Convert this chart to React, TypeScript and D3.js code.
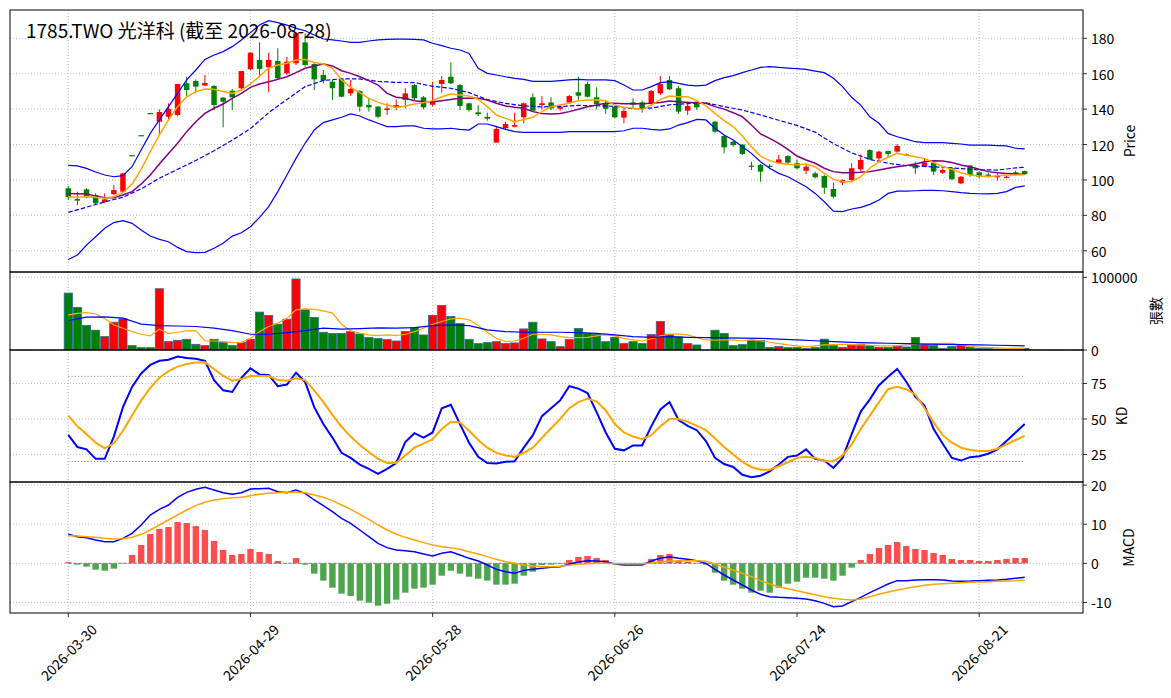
import * as d3 from 'd3';
import { useEffect } from 'react';

// x axis
const tickIdx = [0, 20, 40, 60, 80, 100];
const tickLabels = ['2026-03-30', '2026-04-29', '2026-05-28', '2026-06-26', '2026-07-24', '2026-08-21'];

// OHLC (index 70 = no trade)
const open = [95.3, 89.2, 94.7, 91.5, 87.5, 92.0, 93.4, 114.0, 125.3, 137.8,
  132.9, 135.7, 136.7, 154.6, 155.9, 153.3, 153.1, 146.5, 150.4, 151.8,
  162.5, 167.8, 163.6, 167.2, 160.2, 165.9, 177.7, 165.5, 159.3, 155.5,
  156.8, 148.9, 150.2, 142.3, 141.4, 139.5, 140.8, 145.2, 153.6, 146.7,
  142.5, 154.2, 158.3, 153.6, 143.3, 138.2, 135.6, 121.1, 129.2, 130.1,
  135.4, 146.7, 142.3, 143.8, 140.2, 143.7, 149.5, 154.2, 146.7, 142.9,
  141.4, 135.2, 143.8, 143.8, 143.3, 148.9, 156.5, 151.8, 139.1, 143.3,
  null, 132.9, 124.8, 121.6, 120.0, 108.1, 108.5, 108.0, 109.4, 113.5,
  109.4, 105.2, 103.7, 102.2, 94.9, 98.5, 99.9, 106.0, 116.9, 112.2,
  116.3, 116.0, 114.5, 108.5, 107.5, 109.8, 104.1, 106.6, 98.1, 108.1,
  104.3, 103.0, 101.5, 101.3, 104.3, 105.0];
const high = [96.6, 93.4, 95.3, 92.4, 92.4, 97.1, 104.1, 114.0, 125.3, 137.8,
  139.9, 143.3, 154.2, 158.3, 156.8, 159.3, 153.6, 146.7, 151.4, 161.5,
  171.9, 177.7, 171.9, 174.4, 169.6, 183.5, 182.8, 165.9, 162.1, 156.5,
  157.4, 156.5, 150.8, 146.1, 141.8, 143.3, 145.5, 151.8, 154.2, 147.4,
  155.5, 158.7, 166.3, 154.2, 143.7, 142.3, 138.0, 130.1, 132.9, 138.0,
  143.7, 148.9, 147.4, 146.7, 142.7, 148.0, 158.3, 155.5, 152.3, 145.2,
  141.8, 140.5, 146.1, 144.8, 150.8, 158.7, 158.7, 153.1, 144.2, 144.2,
  null, 133.3, 125.4, 122.0, 120.3, 110.3, 109.0, 109.0, 114.1, 113.9,
  111.6, 108.4, 104.7, 102.8, 98.5, 100.3, 109.4, 114.5, 117.3, 116.5,
  116.5, 120.3, 115.0, 110.3, 112.2, 110.3, 106.6, 107.1, 102.2, 108.4,
  105.0, 104.1, 103.7, 102.4, 105.2, 105.2];
const low = [88.7, 85.8, 89.6, 86.4, 86.8, 91.5, 92.8, 114.0, 125.3, 137.8,
  125.4, 133.3, 136.0, 147.4, 148.9, 153.1, 139.5, 129.7, 139.5, 150.8,
  162.1, 158.3, 149.5, 156.5, 159.3, 164.9, 164.0, 150.8, 154.6, 145.2,
  146.7, 147.4, 138.6, 138.6, 134.8, 136.7, 139.5, 140.4, 145.2, 139.9,
  141.5, 149.3, 154.2, 139.5, 138.6, 136.1, 133.5, 121.1, 128.2, 129.7,
  132.0, 138.6, 139.9, 139.5, 139.1, 142.9, 145.2, 146.7, 139.9, 137.3,
  134.8, 132.0, 140.4, 138.0, 142.3, 148.0, 150.8, 137.3, 136.7, 139.5,
  null, 126.7, 115.0, 118.8, 114.1, 105.6, 99.0, 106.0, 109.0, 109.0,
  106.0, 103.3, 100.9, 92.1, 89.6, 97.1, 99.6, 104.7, 111.3, 109.8,
  112.8, 115.4, 113.5, 103.4, 107.5, 102.8, 103.4, 100.0, 97.7, 101.8,
  100.9, 102.2, 99.6, 100.9, 102.6, 102.8];
const close = [90.2, 88.3, 90.5, 86.8, 89.0, 94.3, 103.7, 114.0, 125.3, 137.8,
  138.4, 140.1, 154.2, 150.8, 152.7, 154.8, 142.3, 144.2, 146.7, 161.5,
  171.9, 162.7, 167.8, 157.4, 166.8, 183.0, 164.9, 156.8, 156.1, 151.8,
  147.0, 151.4, 141.4, 141.0, 135.7, 140.4, 142.3, 148.9, 146.1, 141.0,
  144.5, 156.5, 154.6, 141.8, 139.5, 137.1, 134.6, 128.8, 131.6, 131.0,
  143.3, 139.1, 143.3, 140.4, 141.4, 147.4, 147.6, 147.0, 142.9, 140.2,
  135.4, 139.0, 142.5, 140.0, 150.2, 154.2, 151.2, 138.6, 141.8, 141.0,
  null, 127.3, 118.4, 119.7, 114.7, 108.1, 104.7, 108.0, 111.6, 109.8,
  106.6, 107.5, 101.5, 95.6, 90.5, 99.9, 106.6, 111.3, 111.6, 116.0,
  114.7, 119.2, 114.0, 106.6, 109.8, 104.7, 105.6, 100.4, 101.8, 102.8,
  101.8, 103.0, 102.4, 101.8, 103.3, 103.3];

const volume = [78300, 58500, 33600, 27200, 18400, 38200, 42900, 6000, 3200, 3200,
  84300, 11500, 13400, 14700, 7800, 6000, 14700, 10600, 6000, 10600,
  14700, 52100, 47500, 35500, 42400, 97700, 55300, 44700, 24400, 22600,
  22600, 25300, 22100, 17100, 15700, 14300, 12400, 25300, 30900, 20700,
  47500, 61300, 46100, 36400, 14700, 8800, 10100, 11500, 8800, 9700,
  29000, 38200, 15200, 11500, 4600, 14300, 29500, 23000, 21700, 11500,
  17500, 8800, 11500, 8800, 21200, 39200, 21700, 18000, 8800, 6900,
  0, 27200, 22600, 6000, 7400, 12900, 13000, 3300, 4700, 3300,
  3300, 2300, 3300, 14900, 6000, 3700, 7000, 7900, 6000, 3700,
  3700, 5600, 4200, 17200, 7000, 6000, 2300, 4700, 6000, 4200,
  2300, 2300, 1400, 1400, 2300, 2300];

// price overlays
const ma5 = [90.5, 90.2, 90.5, 90.2, 89.6, 90.5, 92.8, 97.7, 106.0, 116.0,
  125.4, 133.9, 141.4, 147.0, 149.9, 151.4, 151.2, 149.9, 148.9, 150.8,
  154.2, 158.7, 163.1, 164.9, 165.9, 167.8, 168.1, 166.3, 165.5, 163.1,
  156.5, 152.3, 149.3, 146.1, 143.8, 142.3, 141.0, 141.8, 142.9, 143.7,
  144.8, 147.0, 148.6, 148.0, 147.4, 145.5, 141.4, 136.7, 134.8, 132.9,
  134.2, 135.4, 138.6, 141.4, 142.3, 143.3, 144.8, 145.2, 145.2, 144.8,
  142.3, 141.0, 140.5, 139.9, 142.3, 145.5, 147.4, 147.0, 147.0, 144.8,
  141.8, 137.6, 133.5, 130.1, 124.8, 118.8, 113.5, 110.9, 109.4, 108.8,
  108.4, 109.0, 107.5, 103.7, 100.3, 99.0, 99.0, 101.8, 106.6, 110.3,
  112.8, 115.0, 114.1, 113.1, 112.2, 109.8, 107.5, 106.0, 104.1, 102.8,
  102.2, 101.8, 102.4, 102.8, 102.8, 103.0];
const ma10 = [92.4, 92.2, 92.1, 91.0, 90.0, 90.0, 91.5, 93.4, 97.7, 102.8,
  109.0, 115.0, 120.7, 127.3, 132.9, 137.6, 140.5, 142.9, 146.1, 148.9,
  152.3, 154.2, 155.5, 156.8, 158.3, 160.6, 163.1, 164.4, 165.5, 164.4,
  161.7, 160.2, 158.3, 156.1, 153.6, 148.9, 146.7, 146.1, 144.8, 144.2,
  144.2, 144.8, 145.5, 146.1, 146.1, 146.1, 145.2, 143.3, 141.8, 141.0,
  140.5, 138.6, 137.6, 137.3, 137.6, 138.6, 139.9, 141.4, 142.3, 143.3,
  143.3, 143.1, 143.1, 143.1, 143.3, 143.8, 144.6, 144.2, 143.8, 143.8,
  143.3, 141.4, 140.0, 138.0, 135.7, 131.0, 126.0, 123.5, 120.7, 117.3,
  113.5, 111.3, 109.4, 106.6, 104.7, 104.1, 104.1, 104.3, 104.7, 105.6,
  106.6, 107.5, 108.1, 109.0, 110.3, 110.9, 110.7, 109.8, 108.4, 107.5,
  106.0, 104.7, 104.1, 103.7, 103.3, 103.2];
const ma20Idx = [0, 2, 4, 6, 8, 10, 12, 14, 16, 18, 20, 22, 24, 26, 28, 30, 32, 34, 36, 38,
  40, 42, 44, 46, 48, 50, 52, 54, 56, 58, 60, 62, 64, 66, 68, 70, 72, 74, 76, 78,
  80, 82, 84, 86, 88, 90, 92, 94, 96, 98, 100, 102, 104, 105];
const ma20 = [81.7, 84.6, 87.6, 90.2, 95.0, 101.0, 106.0, 111.0, 116.5, 122.5,
  129.0, 138.0, 145.5, 152.7, 156.2, 157.1, 157.1, 155.7, 155.1, 155.0,
  152.9, 151.8, 149.3, 145.4, 143.2, 141.9, 141.3, 141.5, 142.1, 141.9,
  141.6, 140.2, 140.6, 142.4, 143.1, 143.6, 141.4, 139.5, 136.7, 133.7,
  130.8, 127.0, 120.5, 115.3, 111.6, 109.4, 108.1, 107.6, 107.2, 106.4,
  105.7, 105.6, 106.8, 107.1];
const bbUpper = [108.2, 107.9, 106.5, 104.5, 102.8, 101.8, 102.4, 107.5, 116.9, 126.3,
  133.9, 141.4, 148.9, 156.5, 162.1, 168.1, 170.6, 172.5, 175.3, 179.1,
  183.2, 187.5, 190.0, 188.9, 187.5, 185.6, 184.3, 181.9, 179.6, 179.1,
  178.5, 177.7, 177.7, 178.5, 179.1, 179.4, 179.6, 179.6, 179.4, 179.1,
  177.2, 175.9, 174.4, 173.4, 171.5, 163.1, 160.2, 159.3, 158.3, 157.4,
  156.8, 155.7, 155.7, 155.7, 156.1, 156.5, 156.8, 156.5, 156.5, 156.5,
  156.1, 153.6, 150.8, 150.8, 152.7, 155.0, 155.5, 154.6, 153.6, 153.1,
  153.6, 156.1, 157.8, 158.9, 160.6, 162.1, 163.6, 164.0, 163.6, 163.2,
  162.9, 162.5, 161.5, 160.6, 157.4, 152.7, 146.7, 142.3, 135.7, 132.0,
  126.3, 124.4, 123.1, 121.6, 121.1, 121.1, 121.1, 120.7, 120.3, 119.7,
  119.7, 119.7, 119.4, 119.2, 117.9, 117.5];
const bbLower = [55.1, 57.6, 63.2, 67.9, 72.7, 75.9, 77.0, 75.5, 71.7, 68.3,
  66.4, 65.1, 61.9, 59.5, 58.9, 59.1, 61.4, 64.2, 68.3, 70.2,
  73.6, 78.9, 84.9, 93.4, 102.8, 112.2, 120.7, 128.2, 132.4, 133.9,
  135.4, 137.3, 136.1, 133.9, 132.0, 130.1, 130.1, 130.5, 130.5, 129.2,
  128.8, 128.8, 129.2, 128.6, 128.2, 131.6, 131.6, 130.1, 128.6, 127.3,
  126.9, 126.9, 126.9, 126.9, 126.9, 127.3, 127.3, 127.3, 127.3, 127.3,
  127.3, 127.8, 129.2, 129.2, 128.6, 128.2, 128.8, 131.0, 132.4, 134.2,
  133.9, 129.2, 125.4, 122.6, 118.8, 115.0, 110.3, 106.6, 103.7, 101.8,
  99.0, 96.2, 92.4, 87.7, 82.4, 82.1, 83.6, 84.5, 86.2, 88.7,
  92.4, 93.7, 93.7, 93.9, 94.1, 94.1, 93.9, 93.4, 92.8, 92.4,
  92.2, 92.1, 92.4, 93.4, 95.8, 96.6];

// volume overlays
const volMa5 = [48400, 50500, 51600, 49800, 42900, 34600, 30000, 25300, 21700, 19400,
  28600, 22600, 24400, 26300, 26700, 12400, 12400, 11500, 10100, 10100,
  16100, 25300, 32300, 36900, 43800, 55300, 56700, 55800, 53900, 50700,
  35500, 26300, 23000, 20700, 19800, 20700, 19800, 21700, 25300, 30000,
  35500, 39200, 42900, 43800, 41500, 33600, 24400, 16100, 11500, 12400,
  16100, 21700, 21700, 20700, 18400, 17100, 17100, 17500, 19400, 20700,
  19400, 16100, 13800, 12400, 15200, 19400, 21700, 22100, 20700, 17100,
  13800, 13400, 13800, 13800, 12400, 14300, 12500, 10700, 8800, 7000,
  5600, 4200, 5600, 7000, 7500, 7900, 7500, 7000, 6500, 5600,
  5600, 6000, 6900, 7900, 8400, 8800, 9100, 9300, 7000, 4700,
  4000, 3300, 2800, 2300, 2300, 2300];
const volMa20Idx = [0, 2, 4, 6, 8, 10, 12, 14, 16, 18, 20, 22, 24, 26, 28, 30, 32, 34, 36, 38,
  40, 42, 44, 46, 48, 50, 52, 54, 56, 58, 60, 62, 64, 66, 68, 70, 72, 74, 76, 78,
  80, 82, 84, 86, 88, 90, 92, 94, 96, 98, 100, 102, 104, 105];
const volMa20 = [40600, 45200, 45600, 43800, 35500, 33500, 33000, 32300, 30000, 26700,
  21700, 21700, 24000, 26700, 30000, 28600, 29500, 30400, 30200, 30900,
  33600, 34600, 33600, 27600, 25300, 24400, 24400, 24400, 24000, 23000,
  20700, 18400, 17500, 18400, 17500, 17100, 16600, 16300, 16000, 15000,
  14000, 12700, 11400, 10400, 9800, 9300, 8700, 8200, 7800, 7500,
  7000, 6500, 5900, 5600];

// KD
const kLine = [38.8, 30.2, 28.6, 21.9, 21.9, 37.6, 58.3, 72.6, 82.1, 88.1,
  91.0, 91.7, 94.0, 92.9, 92.4, 91.0, 77.4, 70.2, 69.0, 79.0,
  85.7, 81.4, 81.0, 73.1, 74.3, 82.6, 76.2, 58.3, 46.4, 36.9,
  26.2, 22.6, 17.9, 14.8, 11.4, 14.8, 19.0, 33.8, 40.0, 36.9,
  40.5, 57.6, 60.0, 46.4, 33.3, 23.3, 19.0, 18.6, 19.8, 20.2,
  29.8, 38.6, 52.0, 57.5, 63.1, 73.1, 71.4, 68.3, 54.8, 40.5,
  29.0, 27.9, 31.4, 31.4, 44.8, 56.7, 61.9, 49.3, 45.2, 42.1,
  34.5, 22.6, 18.3, 16.2, 10.7, 9.0, 10.0, 13.1, 17.9, 23.3,
  24.3, 28.6, 21.9, 20.7, 15.5, 22.6, 39.3, 55.2, 63.8, 73.8,
  79.8, 85.2, 76.2, 65.5, 59.5, 42.9, 32.6, 22.6, 20.7, 23.1,
  23.8, 25.5, 28.6, 34.5, 40.5, 46.4];
const dLine = [52.4, 44.8, 39.3, 33.3, 29.3, 32.9, 41.7, 52.4, 63.1, 71.9,
  79.0, 83.8, 86.9, 88.8, 89.8, 90.0, 85.2, 80.5, 76.9, 78.1,
  80.2, 80.2, 80.2, 77.4, 76.9, 78.6, 77.4, 70.2, 61.9, 52.9,
  44.5, 37.6, 31.7, 26.7, 21.9, 19.0, 19.0, 24.3, 29.8, 32.6,
  35.7, 42.9, 48.1, 47.6, 41.7, 35.2, 29.8, 26.2, 24.3, 23.3,
  26.2, 29.8, 36.7, 43.5, 50.0, 57.6, 61.9, 64.3, 62.4, 56.0,
  46.4, 40.5, 37.6, 35.7, 38.6, 44.8, 50.0, 50.0, 48.1, 45.2,
  42.1, 36.2, 30.2, 25.0, 19.8, 16.2, 14.3, 14.3, 16.7, 19.5,
  22.6, 23.3, 22.6, 20.2, 20.2, 24.3, 32.1, 42.9, 52.4, 61.9,
  71.0, 72.6, 71.0, 67.1, 57.6, 47.6, 38.6, 33.3, 29.8, 28.1,
  27.4, 27.4, 29.0, 32.1, 35.2, 38.1];

// MACD
const dif = [7.42, 6.82, 6.56, 5.97, 5.54, 5.54, 6.39, 7.67, 9.80, 12.36,
  13.81, 14.92, 16.88, 18.16, 18.93, 19.44, 18.76, 18.07, 17.65, 18.07,
  19.01, 19.10, 19.18, 18.33, 18.07, 18.76, 17.90, 16.20, 14.75, 13.21,
  11.51, 10.23, 8.53, 6.82, 5.12, 4.01, 3.41, 3.24, 2.98, 2.39,
  1.88, 2.56, 2.98, 2.13, 1.28, 0.60, -0.43, -1.53, -2.13, -2.56,
  -1.80, -1.53, -1.28, -1.02, -0.85, -0.17, 0.34, 0.68, 0.60, 0.43,
  -0.17, -0.43, -0.43, -0.43, 0.60, 1.28, 1.71, 1.28, 1.02, 0.68,
  0.00, -1.53, -2.98, -4.26, -5.54, -6.82, -7.93, -8.53, -8.70, -8.78,
  -8.95, -9.12, -9.55, -10.23, -11.08, -10.91, -9.80, -8.70, -7.50, -6.39,
  -5.29, -4.43, -4.43, -4.26, -4.20, -4.20, -4.26, -4.52, -4.55, -4.52,
  -4.43, -4.35, -4.26, -4.09, -3.84, -3.58];
const dea = [7.08, 6.99, 6.82, 6.65, 6.39, 6.22, 6.31, 6.65, 7.42, 8.53,
  9.80, 11.08, 12.36, 13.64, 14.75, 15.60, 16.20, 16.54, 16.80, 16.88,
  17.31, 17.65, 17.90, 18.07, 18.16, 18.16, 18.07, 17.48, 16.88, 16.03,
  14.92, 13.81, 12.53, 11.25, 9.80, 8.53, 7.50, 6.65, 5.97, 5.29,
  4.69, 4.26, 4.01, 3.58, 2.98, 2.39, 1.71, 1.02, 0.43, 0.00,
  -0.43, -0.68, -0.85, -0.85, -0.77, -0.51, -0.26, -0.09, 0.00, 0.00,
  -0.09, -0.09, -0.09, -0.09, 0.09, 0.34, 0.60, 0.68, 0.68, 0.68,
  0.51, -0.17, -1.02, -1.71, -2.56, -3.41, -4.43, -5.29, -5.97, -6.48,
  -6.99, -7.50, -8.01, -8.53, -8.95, -9.21, -9.38, -9.12, -8.53, -7.93,
  -7.33, -6.82, -6.39, -5.97, -5.63, -5.37, -5.20, -5.12, -4.94, -4.86,
  -4.77, -4.69, -4.60, -4.52, -4.43, -4.26];
const hist = [0.30, -0.34, -0.85, -1.62, -1.88, -1.36, 0.10, 2.13, 4.69, 7.50,
  8.78, 9.29, 10.57, 10.31, 9.55, 8.53, 5.71, 3.41, 2.13, 2.39,
  3.66, 2.90, 2.39, 0.60, -0.10, 1.36, -0.34, -2.64, -4.43, -6.22,
  -7.76, -8.36, -9.55, -10.06, -10.83, -10.32, -9.29, -7.50, -6.48, -6.22,
  -5.46, -3.16, -1.88, -2.64, -3.41, -3.92, -4.43, -5.46, -5.46, -5.20,
  -3.16, -2.13, -0.43, -0.34, -0.10, 0.85, 1.62, 1.88, 1.36, 0.85,
  -0.10, -0.30, -0.30, -0.20, 1.10, 2.13, 2.39, 0.60, 0.40, 0.10,
  -0.34, -2.39, -4.43, -5.46, -6.48, -7.50, -7.00, -7.50, -6.22, -5.20,
  -4.69, -3.67, -3.67, -3.92, -4.43, -3.16, -1.11, 0.85, 2.39, 3.92,
  4.69, 5.46, 4.43, 3.67, 3.41, 2.64, 2.13, 1.11, 0.85, 0.85,
  0.60, 0.60, 0.85, 1.11, 1.36, 1.36];

const priceTicks = [60, 80, 100, 120, 140, 160, 180];
const volTicks = [0, 100000];
const kdTicks = [25, 50, 75];
const macdTicks = [-10, 0, 10, 20];

const FONT = "'Noto Sans CJK TC', 'Noto Sans', sans-serif";
const UP = '#ff0000';
const DOWN = '#008000';
const GRID = '#b0b0b0';

export default function App() {
  useEffect(() => {
    document.body.style.margin = '0';
  }, []);

  const W = 1171, H = 698;
  const left = 10, right = 1083;
  const x = d3.scaleLinear().domain([-6.4, 111.4]).range([left, right]);
  const step = x(1) - x(0);

  const yP = d3.scaleLinear().domain([48, 196]).range([272, 10]);
  const yV = d3.scaleLinear().domain([0, 107300]).range([350, 272]);
  const yK = d3.scaleLinear().domain([5.6, 98.6]).range([482, 350]);
  const yM = d3.scaleLinear().domain([-12.7, 20.8]).range([613, 482]);

  const panels = [
    { id: 'p', y: yP, top: 10, bottom: 272, ticks: priceTicks, label: 'Price', lx: 1129 },
    { id: 'v', y: yV, top: 272, bottom: 350, ticks: volTicks, label: '張數', lx: 1155 },
    { id: 'k', y: yK, top: 350, bottom: 482, ticks: kdTicks, label: 'KD', lx: 1121 },
    { id: 'm', y: yM, top: 482, bottom: 613, ticks: macdTicks, label: 'MACD', lx: 1128 },
  ];

  const lineOf = (y: d3.ScaleLinear<number, number>, xs?: number[]) =>
    d3.line<number>()
      .x((_, i) => x(xs ? xs[i] : i))
      .y(d => y(d));

  const bw = step * 0.6;
  const vw = step * 0.9;
  const hw = step * 0.7;

  return (
    <div style={{ position: 'absolute', left: 0, top: 0 }}>
      <svg width={W} height={H} style={{ display: 'block', background: '#fff', fontFamily: FONT }}>
        <defs>
          {panels.map(p => (
            <clipPath id={'clip-' + p.id} key={p.id}>
              <rect x={left} y={p.top} width={right - left} height={p.bottom - p.top} />
            </clipPath>
          ))}
        </defs>

        {/* grids */}
        {panels.map(p => (
          <g key={'g' + p.id} stroke={GRID} strokeWidth={0.8} strokeDasharray="1 2">
            {tickIdx.map(t => (
              <line key={t} x1={x(t)} x2={x(t)} y1={p.top} y2={p.bottom} />
            ))}
            {p.ticks.map(t => (
              <line key={'h' + t} x1={left} x2={right} y1={p.y(t)} y2={p.y(t)} />
            ))}
          </g>
        ))}

        {/* price panel */}
        <g clipPath="url(#clip-p)">
          {open.map((o, i) => {
            if (o == null) return null;
            const c = close[i] as number;
            const col = c > o ? UP : DOWN;
            const yt = yP(Math.max(o, c));
            const yb = yP(Math.min(o, c));
            return (
              <g key={i}>
                <line x1={x(i)} x2={x(i)} y1={yP(high[i] as number)} y2={yP(low[i] as number)}
                  stroke={col} strokeWidth={1} />
                <rect x={x(i) - bw / 2} y={yt} width={bw} height={Math.max(yb - yt, 1.2)} fill={col} />
              </g>
            );
          })}
          <path d={lineOf(yP)(bbUpper) || ''} fill="none" stroke="#0000ff" strokeWidth={1.2} />
          <path d={lineOf(yP)(bbLower) || ''} fill="none" stroke="#0000ff" strokeWidth={1.2} />
          <path d={lineOf(yP, ma20Idx)(ma20) || ''} fill="none" stroke="#0000ff" strokeWidth={1.2}
            strokeDasharray="4.5 2" />
          <path d={lineOf(yP)(ma10) || ''} fill="none" stroke="#800080" strokeWidth={1.5} />
          <path d={lineOf(yP)(ma5) || ''} fill="none" stroke="#ffa500" strokeWidth={1.5} />
          <text x={26} y={38} fontSize={19} fill="#000">1785.TWO 光洋科 (截至 2026-08-28)</text>
        </g>

        {/* volume panel */}
        <g clipPath="url(#clip-v)">
          {volume.map((v, i) => {
            if (!v || open[i] == null) return null;
            const col = (close[i] as number) > (open[i] as number) ? UP : DOWN;
            return (
              <rect key={i} x={x(i) - vw / 2} y={yV(v)} width={vw} height={yV(0) - yV(v)}
                fill={col} stroke="#2a6aa0" strokeWidth={0.8} />
            );
          })}
          <path d={lineOf(yV)(volMa5) || ''} fill="none" stroke="#ffa500" strokeWidth={1.2} />
          <path d={lineOf(yV, volMa20Idx)(volMa20) || ''} fill="none" stroke="#0000ff" strokeWidth={1.2} />
        </g>

        {/* KD panel */}
        <g clipPath="url(#clip-k)">
          {[80, 20].map(r => (
            <line key={r} x1={x(0)} x2={x(105)} y1={yK(r)} y2={yK(r)} stroke="#909090"
              strokeWidth={1} strokeDasharray="1.2 2" />
          ))}
          <path d={lineOf(yK)(kLine) || ''} fill="none" stroke="#0000ff" strokeWidth={2} />
          <path d={lineOf(yK)(dLine) || ''} fill="none" stroke="#ffa500" strokeWidth={2} />
        </g>

        {/* MACD panel */}
        <g clipPath="url(#clip-m)">
          {hist.map((h, i) => (
            <rect key={i} x={x(i) - hw / 2} y={yM(Math.max(h, 0))} width={hw}
              height={Math.abs(yM(h) - yM(0))} fill={h >= 0 ? '#ff4d4d' : '#4da64d'} />
          ))}
          <line x1={x(0)} x2={x(105)} y1={yM(0)} y2={yM(0)} stroke="#808080" strokeWidth={1}
            strokeDasharray="3.5 1.5" />
          <path d={lineOf(yM)(dif) || ''} fill="none" stroke="#0000ff" strokeWidth={1.5} />
          <path d={lineOf(yM)(dea) || ''} fill="none" stroke="#ffa500" strokeWidth={1.5} />
        </g>

        {/* frames, right axes, labels */}
        {panels.map(p => (
          <g key={'a' + p.id}>
            <rect x={left} y={p.top} width={right - left} height={p.bottom - p.top}
              fill="none" stroke="#000" strokeWidth={1} />
            {p.ticks.map(t => (
              <g key={t}>
                <line x1={right} x2={right + 4} y1={p.y(t)} y2={p.y(t)} stroke="#000" strokeWidth={0.8} />
                <text x={right + 8} y={p.y(t)} fontSize={14} dominantBaseline="central" fill="#000">{t}</text>
              </g>
            ))}
            <text transform={`translate(${p.lx},${(p.top + p.bottom) / 2}) rotate(-90)`}
              textAnchor="middle" dominantBaseline="central" fontSize={14} fill="#000">{p.label}</text>
          </g>
        ))}

        {/* x axis */}
        {tickIdx.map((t, j) => (
          <g key={t}>
            <line x1={x(t)} x2={x(t)} y1={613} y2={617} stroke="#000" strokeWidth={0.8} />
            <text transform={`translate(${x(t)},${652}) rotate(-45)`} textAnchor="middle"
              dominantBaseline="central" fontSize={14} fill="#000">{tickLabels[j]}</text>
          </g>
        ))}
      </svg>
    </div>
  );
}
